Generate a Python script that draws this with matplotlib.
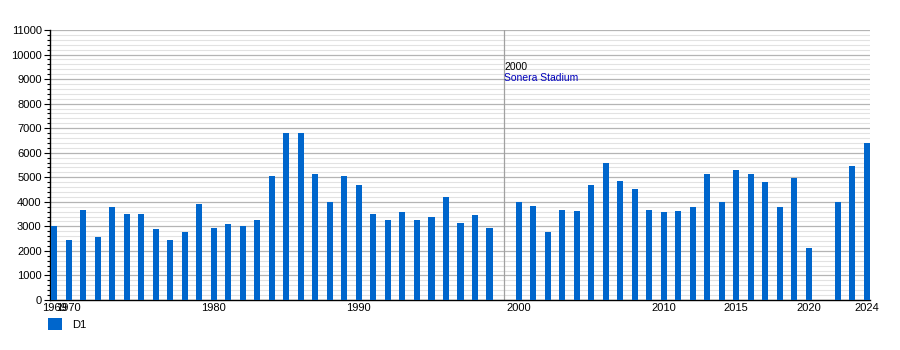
import matplotlib
matplotlib.use("Agg")
from matplotlib import pyplot as plt
from matplotlib.patches import Patch
from matplotlib.ticker import MultipleLocator

# yleisömäärät kausittain (2021 puuttuu)
years = [1969, 1970, 1971, 1972, 1973, 1974, 1975, 1976, 1977, 1978,
         1979, 1980, 1981, 1982, 1983, 1984, 1985, 1986, 1987, 1988,
         1989, 1990, 1991, 1992, 1993, 1994, 1995, 1996, 1997, 1998,
         1999, 2000, 2001, 2002, 2003, 2004, 2005, 2006, 2007, 2008,
         2009, 2010, 2011, 2012, 2013, 2014, 2015, 2016, 2017, 2018,
         2019, 2020, 2022, 2023, 2024]
attendance = [3000, 2430, 3650, 2550, 3780, 3490, 3490, 2880, 2430, 2760,
              3900, 2920, 3080, 3000, 3250, 5040, 6790, 6790, 5120, 4000,
              5040, 4670, 3490, 3250, 3570, 3250, 3400, 4180, 3120, 3450,
              2920, 3980, 3810, 2760, 3650, 3610, 4670, 5570, 4840, 4510,
              3650, 3570, 3610, 3780, 5120, 4000, 5290, 5120, 4790, 3780,
              4990, 2110, 4000, 5450, 6380]

# aika-akselin paikat: tyhjä paikka vuosien 1999 ja 2000 välissä
slots = [str(y) for y in range(1969, 2000)] + [""] + [str(y) for y in range(2000, 2025)]
tick_labels = ["1969", "1970", "1980", "1990", "2000", "2010", "2015", "2020", "2024"]
event_label = "2000"
event_text = "Sonera Stadium"
series_name = "D1"

bar_color = "#0066cc"


def main():
    plt.rcParams["font.family"] = ["Liberation Sans", "DejaVu Sans"]
    plt.rcParams["font.size"] = 8

    fig = plt.figure(figsize=(9, 3.5), dpi=100)
    ax = fig.add_axes([50 / 900, 1 - 300 / 350, 820 / 900, 270 / 350])

    pos = [slots.index(str(y)) for y in years]
    ax.bar(pos, attendance, width=0.42, color=bar_color, zorder=3)

    ax.set_ylim(0, 11000)
    ax.set_xlim(-0.28, len(slots) - 0.79)

    ax.yaxis.set_major_locator(MultipleLocator(1000))
    ax.yaxis.set_minor_locator(MultipleLocator(200))
    ax.grid(True, which="major", axis="y", color="#b4b4b4", linewidth=0.9, zorder=1)
    ax.grid(True, which="minor", axis="y", color="#e2e2e2", linewidth=0.8, zorder=0)
    ax.tick_params(axis="y", which="major", length=4, width=0.8, pad=2)
    ax.tick_params(axis="y", which="minor", length=2, width=0.8)

    ax.set_xticks([slots.index(t) for t in tick_labels])
    ax.set_xticklabels(tick_labels)
    ax.tick_params(axis="x", length=0, pad=2)

    for side in ["top", "right"]:
        ax.spines[side].set_visible(False)
    ax.spines["left"].set_linewidth(1)
    ax.spines["bottom"].set_linewidth(1)

    # merkintä: uusi stadion
    ev = slots.index("")
    ax.axvline(ev, color="#a0a0a0", linewidth=0.9, zorder=2)
    ax.text(ev, 9500, event_label, fontsize=7.5, color="black", va="center", ha="left")
    ax.text(ev, 9050, event_text, fontsize=7.5, color="#0000bb", va="center", ha="left")

    handle = [Patch(facecolor=bar_color, edgecolor="none")]
    fig.legend(handle, [series_name], loc="center left",
               bbox_to_anchor=(38 / 900, 1 - 324 / 350), frameon=False,
               handlelength=1.3, handleheight=1.3, handletextpad=0.9, fontsize=8)

    fig.savefig("out.png", dpi=100)
    plt.close()


main()
